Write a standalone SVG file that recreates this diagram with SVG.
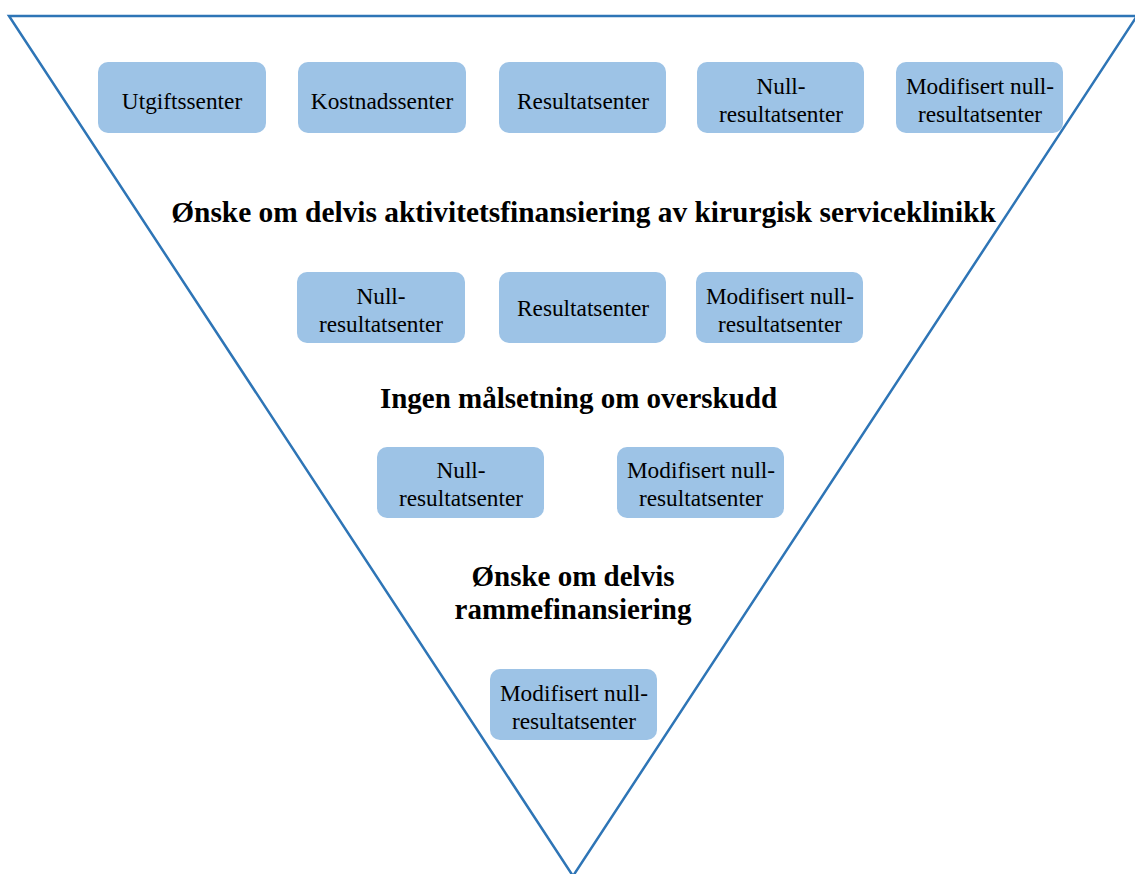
<svg xmlns="http://www.w3.org/2000/svg" width="1135" height="874" viewBox="0 0 1135 874">
<style>
.box{fill:#9DC3E6;}
.t{font-family:"Liberation Serif","Times New Roman",serif;font-size:23.3px;fill:#000;text-anchor:middle;}
.h{font-family:"Liberation Serif","Times New Roman",serif;font-size:29px;font-weight:bold;fill:#000;text-anchor:middle;}
.h1{font-size:29.4px;}
</style>
<rect width="1135" height="874" fill="#fff"/>
<g id="connectors">
<path d="M9,16 L1137,16 L573,876 Z" fill="none" stroke="#2E75B6" stroke-width="2.5" stroke-linejoin="miter"/>
</g>
<g id="r1n1"><rect class="box" x="98" y="62" width="168" height="71" rx="10"/><text class="t" x="182" y="109">Utgiftssenter</text></g>
<g id="r1n2"><rect class="box" x="298" y="62" width="168" height="71" rx="10"/><text class="t" x="382" y="109">Kostnadssenter</text></g>
<g id="r1n3"><rect class="box" x="499" y="62" width="167" height="71" rx="10"/><text class="t" x="583" y="109">Resultatsenter</text></g>
<g id="r1n4"><rect class="box" x="697" y="62" width="167" height="71" rx="10"/><text class="t" x="781" y="94">Null-</text><text class="t" x="781" y="122">resultatsenter</text></g>
<g id="r1n5"><rect class="box" x="896" y="62" width="167" height="71" rx="10"/><text class="t" x="980" y="94">Modifisert null-</text><text class="t" x="980" y="122">resultatsenter</text></g>
<g id="h1"><text class="h h1" x="583.5" y="222">Ønske om delvis aktivitetsfinansiering av kirurgisk serviceklinikk</text></g>
<g id="r2n1"><rect class="box" x="297" y="272" width="168" height="71" rx="10"/><text class="t" x="381" y="304">Null-</text><text class="t" x="381" y="332">resultatsenter</text></g>
<g id="r2n2"><rect class="box" x="499" y="272" width="167" height="71" rx="10"/><text class="t" x="583" y="316">Resultatsenter</text></g>
<g id="r2n3"><rect class="box" x="696" y="272" width="167" height="71" rx="10"/><text class="t" x="780" y="304">Modifisert null-</text><text class="t" x="780" y="332">resultatsenter</text></g>
<g id="h2"><text class="h" x="578.5" y="408">Ingen målsetning om overskudd</text></g>
<g id="r3n1"><rect class="box" x="377" y="447" width="167" height="71" rx="10"/><text class="t" x="461" y="478">Null-</text><text class="t" x="461" y="506">resultatsenter</text></g>
<g id="r3n2"><rect class="box" x="617" y="447" width="167" height="71" rx="10"/><text class="t" x="701" y="478">Modifisert null-</text><text class="t" x="701" y="506">resultatsenter</text></g>
<g id="h3"><text class="h" x="573" y="586">Ønske om delvis</text><text class="h" x="573" y="619">rammefinansiering</text></g>
<g id="r4n1"><rect class="box" x="490" y="669" width="167" height="71" rx="10"/><text class="t" x="574" y="701">Modifisert null-</text><text class="t" x="574" y="729">resultatsenter</text></g>
</svg>
